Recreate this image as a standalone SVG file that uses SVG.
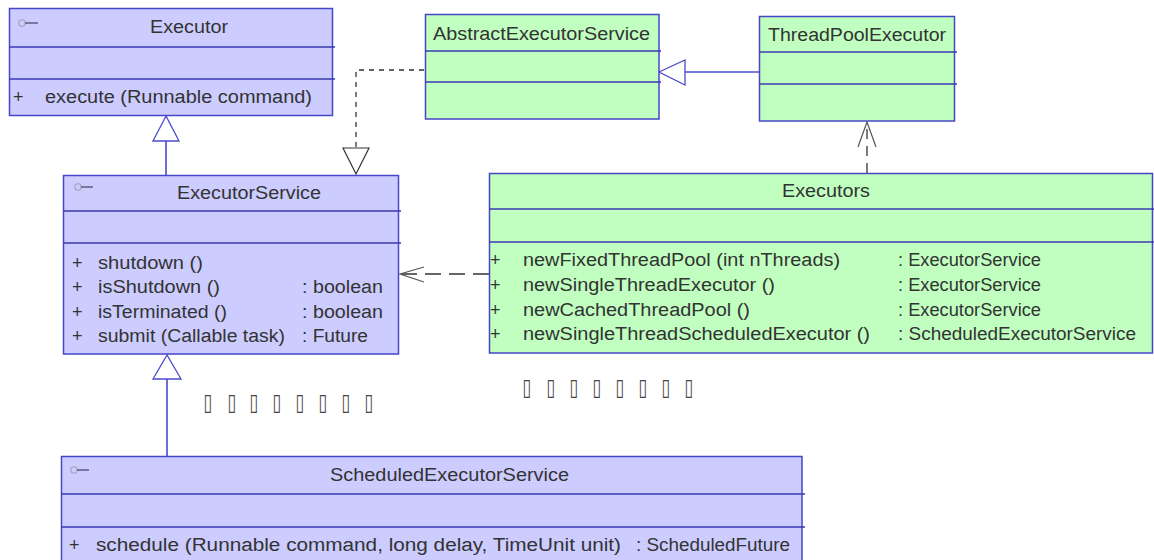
<svg xmlns="http://www.w3.org/2000/svg" width="1154" height="560" viewBox="0 0 1154 560">
<style>
  .box-i { fill: #ccccff; stroke: #4646c8; stroke-width: 1.5; }
  .box-c { fill: #c0ffc0; stroke: #4646c8; stroke-width: 1.5; }
  .div { stroke: #3a3ab0; stroke-width: 1.3; fill: none; }
  .t { font-family: "Liberation Sans", Arial, sans-serif; font-size: 18px; fill: #333333; }
  .icon-c { fill: none; stroke: #a0a0b8; stroke-width: 1.1; }
  .icon-l { stroke: #555577; stroke-width: 1.4; }
  .gen { stroke: #4a4ad0; stroke-width: 1.6; fill: none; }
  .gen-head { stroke: #4a4ad0; stroke-width: 1.3; fill: #ffffff; }
  .dash { stroke: #333333; stroke-width: 1.3; fill: none; }
  .dash-head { stroke: #333333; stroke-width: 1.2; fill: #ffffff; }
  .open-head { stroke: #555555; stroke-width: 1.2; fill: none; }
  .tofu { font-family: "DejaVu Sans", sans-serif; font-size: 23px; fill: #444444; }
</style>

<g id="connectors">
  <!-- ExecutorService -> Executor (generalization) -->
  <line class="gen" x1="166" y1="175" x2="166" y2="141"/>
  <polygon class="gen-head" points="166,116 153,141 179,141"/>
  <!-- ScheduledExecutorService -> ExecutorService (generalization) -->
  <line class="gen" x1="167" y1="456" x2="167" y2="379"/>
  <polygon class="gen-head" points="167,355 153,379 181,379"/>
  <!-- AbstractExecutorService -> ExecutorService (realization) -->
  <path class="dash" d="M424,70 H356 V148" stroke-dasharray="5,5"/>
  <polygon class="dash-head" points="343,148 369,148 356,174"/>
  <!-- ThreadPoolExecutor -> AbstractExecutorService (generalization) -->
  <line class="gen" x1="759" y1="72" x2="685" y2="72"/>
  <polygon class="gen-head" points="659,72 685,60 685,85"/>
  <!-- Executors -> ThreadPoolExecutor (dependency) -->
  <line class="dash" x1="867" y1="173" x2="867" y2="122" stroke-dasharray="10,7" stroke="#555555"/>
  <polyline class="open-head" points="858,147 867,122 876,147"/>
  <!-- Executors -> ExecutorService (dependency) -->
  <line class="dash" x1="489" y1="274" x2="400" y2="274" stroke-dasharray="16,8"/>
  <polyline class="open-head" points="424,267 400,274 424,282"/>
</g>

<g id="Executor">
  <rect class="box-i" x="9.5" y="8.5" width="323" height="107"/>
  <line class="div" x1="9.5" y1="47" x2="335" y2="47"/>
  <line class="div" x1="9.5" y1="79" x2="335" y2="79"/>
  <circle class="icon-c" cx="22" cy="23" r="3.2"/>
  <line class="icon-l" x1="25" y1="23" x2="38" y2="23"/>
  <text class="t" x="150" y="33" textLength="78" lengthAdjust="spacingAndGlyphs">Executor</text>
  <text class="t" x="13" y="103">+</text>
  <text class="t" x="45" y="103" textLength="267" lengthAdjust="spacingAndGlyphs">execute (Runnable command)</text>
</g>

<g id="ExecutorService">
  <rect class="box-i" x="63.5" y="175.5" width="335" height="178.5"/>
  <line class="div" x1="63.5" y1="211" x2="401" y2="211"/>
  <line class="div" x1="63.5" y1="243" x2="401" y2="243"/>
  <circle class="icon-c" cx="78" cy="187" r="3.2"/>
  <line class="icon-l" x1="81" y1="187" x2="93" y2="187"/>
  <text class="t" x="177" y="199" textLength="144" lengthAdjust="spacingAndGlyphs">ExecutorService</text>
  <text class="t" x="72" y="269">+</text>
  <text class="t" x="98" y="269" textLength="105" lengthAdjust="spacingAndGlyphs">shutdown ()</text>
  <text class="t" x="72" y="293">+</text>
  <text class="t" x="98" y="293" textLength="122" lengthAdjust="spacingAndGlyphs">isShutdown ()</text>
  <text class="t" x="302" y="293" textLength="81" lengthAdjust="spacingAndGlyphs">: boolean</text>
  <text class="t" x="72" y="318">+</text>
  <text class="t" x="98" y="318" textLength="129" lengthAdjust="spacingAndGlyphs">isTerminated ()</text>
  <text class="t" x="302" y="318" textLength="81" lengthAdjust="spacingAndGlyphs">: boolean</text>
  <text class="t" x="72" y="342">+</text>
  <text class="t" x="98" y="342" textLength="187" lengthAdjust="spacingAndGlyphs">submit (Callable task)</text>
  <text class="t" x="302" y="342" textLength="66" lengthAdjust="spacingAndGlyphs">: Future</text>
</g>

<g id="AbstractExecutorService">
  <rect class="box-c" x="425.5" y="14.5" width="233.5" height="104.5"/>
  <line class="div" x1="425.5" y1="51" x2="661" y2="51"/>
  <line class="div" x1="425.5" y1="82" x2="661" y2="82"/>
  <text class="t" x="433" y="40" textLength="217" lengthAdjust="spacingAndGlyphs">AbstractExecutorService</text>
</g>

<g id="ThreadPoolExecutor">
  <rect class="box-c" x="759.5" y="16.5" width="195" height="104.5"/>
  <line class="div" x1="759.5" y1="52" x2="957" y2="52"/>
  <line class="div" x1="759.5" y1="84" x2="957" y2="84"/>
  <text class="t" x="768" y="41" textLength="178" lengthAdjust="spacingAndGlyphs">ThreadPoolExecutor</text>
</g>

<g id="Executors">
  <rect class="box-c" x="489.5" y="173.5" width="663" height="179.5"/>
  <line class="div" x1="489.5" y1="209" x2="1154" y2="209"/>
  <line class="div" x1="489.5" y1="242" x2="1154" y2="242"/>
  <text class="t" x="782" y="197" textLength="88" lengthAdjust="spacingAndGlyphs">Executors</text>
  <text class="t" x="490" y="266">+</text>
  <text class="t" x="523" y="266" textLength="317" lengthAdjust="spacingAndGlyphs">newFixedThreadPool (int nThreads)</text>
  <text class="t" x="898" y="266" textLength="143" lengthAdjust="spacingAndGlyphs">: ExecutorService</text>
  <text class="t" x="490" y="291">+</text>
  <text class="t" x="523" y="291" textLength="252" lengthAdjust="spacingAndGlyphs">newSingleThreadExecutor ()</text>
  <text class="t" x="898" y="291" textLength="143" lengthAdjust="spacingAndGlyphs">: ExecutorService</text>
  <text class="t" x="490" y="316">+</text>
  <text class="t" x="523" y="316" textLength="227" lengthAdjust="spacingAndGlyphs">newCachedThreadPool ()</text>
  <text class="t" x="898" y="316" textLength="143" lengthAdjust="spacingAndGlyphs">: ExecutorService</text>
  <text class="t" x="490" y="340">+</text>
  <text class="t" x="523" y="340" textLength="347" lengthAdjust="spacingAndGlyphs">newSingleThreadScheduledExecutor ()</text>
  <text class="t" x="898" y="340" textLength="238" lengthAdjust="spacingAndGlyphs">: ScheduledExecutorService</text>
</g>

<g id="ScheduledExecutorService">
  <rect class="box-i" x="61.5" y="456.5" width="740.5" height="120"/>
  <line class="div" x1="61.5" y1="494" x2="805" y2="494"/>
  <line class="div" x1="61.5" y1="527" x2="805" y2="527"/>
  <circle class="icon-c" cx="74" cy="470" r="3.2"/>
  <line class="icon-l" x1="77" y1="470" x2="89" y2="470"/>
  <text class="t" x="330" y="481" textLength="239" lengthAdjust="spacingAndGlyphs">ScheduledExecutorService</text>
  <text class="t" x="69" y="551">+</text>
  <text class="t" x="96" y="551" textLength="525" lengthAdjust="spacingAndGlyphs">schedule (Runnable command, long delay, TimeUnit unit)</text>
  <text class="t" x="636" y="551" textLength="154" lengthAdjust="spacingAndGlyphs">: ScheduledFuture</text>
</g>

<g id="labels">
  <text class="tofu" transform="scale(0.7,1)" x="297.1 331.4 362.9 395.7 428.6 461.4 494.3 527.1" y="410" text-anchor="middle">▯▯▯▯▯▯▯▯</text>
  <text class="tofu" transform="scale(0.7,1)" x="752.9 787.1 820 852.9 885.7 918.6 951.4 984.3" y="395" text-anchor="middle">▯▯▯▯▯▯▯▯</text>
</g>
</svg>
